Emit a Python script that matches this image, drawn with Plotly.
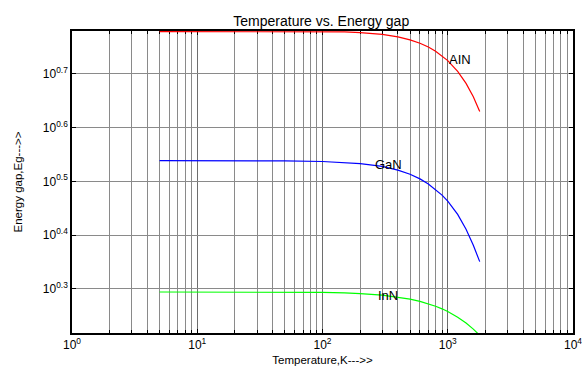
import math
import plotly.graph_objects as go

# Temperature (K)
temperature = [5, 10, 20, 50, 100, 150, 200, 300, 400, 500, 600, 700, 800, 900,
               1000, 1200, 1400, 1600, 1800]

# Energy gap (eV)
eg_aln = [6.000, 6.000, 6.000, 6.000, 6.000, 5.995, 5.977, 5.930, 5.868, 5.794,
          5.711, 5.619, 5.519, 5.413, 5.301, 5.063, 4.808, 4.540, 4.262]
eg_gan = [3.454, 3.454, 3.454, 3.451, 3.442, 3.429, 3.412, 3.370, 3.318, 3.259,
          3.195, 3.127, 3.055, 2.981, 2.904, 2.745, 2.575, 2.405, 2.242]
eg_inn = [1.969, 1.969, 1.969, 1.968, 1.965, 1.961, 1.956, 1.942, 1.927, 1.910,
          1.891, 1.872, 1.852, 1.832, 1.811, 1.768, 1.724, 1.680, 1.635]

series_names = ["AIN", "GaN", "InN"]
series_colors = ["#ff0000", "#0000ff", "#00ff00"]
x_tickvals = [1, 10, 100, 1000, 10000]
x_ticktext = ["10<sup>0</sup>", "10<sup>1</sup>", "10<sup>2</sup>", "10<sup>3</sup>", "10<sup>4</sup>"]
y_exps = [0.3, 0.4, 0.5, 0.6, 0.7]
y_tickvals = [10 ** e for e in y_exps]
y_ticktext = ["10<sup>%g</sup>" % e for e in y_exps]

minor_x = [k * 10 ** d for d in range(0, 4) for k in range(2, 10)]

fig = go.Figure()
for name, vals, col in zip(series_names, [eg_aln, eg_gan, eg_inn], series_colors):
    fig.add_trace(go.Scatter(x=temperature, y=vals, mode="lines", name=name,
                             line=dict(color=col, width=1.2)))

font = "Liberation Sans, Arial, sans-serif"

# curve labels (temperature, energy gap)
labels = [("AIN", 1250, 5.33), ("GaN", 335, 3.40), ("InN", 335, 1.942)]
for txt, xv, yv in labels:
    fig.add_annotation(x=math.log10(xv), y=math.log10(yv), text=txt, showarrow=False,
                       font=dict(family=font, size=13, color="black"))

fig.update_layout(
    width=582, height=370,
    margin=dict(l=72, r=9, t=31, b=37),
    paper_bgcolor="white", plot_bgcolor="white",
    showlegend=False,
    title=dict(text="Temperature vs. Energy gap", x=0.552, xanchor="center",
               y=0.943, yanchor="middle",
               font=dict(family=font, size=14, color="black")),
    font=dict(family=font, size=11, color="black"),
)
fig.update_xaxes(
    type="log", range=[0, 4], automargin=False, ticklabeloverflow="allow",
    tickvals=x_tickvals, ticktext=x_ticktext,
    showgrid=True, gridcolor="#6e6e6e", gridwidth=1,
    minor=dict(tickvals=minor_x, showgrid=True, gridcolor="#8a8a8a", gridwidth=1,
               ticks="inside", ticklen=3, tickcolor="black"),
    ticks="inside", ticklen=4, tickcolor="black",
    showline=True, linecolor="black", linewidth=1.5, mirror="allticks",
    zeroline=False, layer="below traces",
    title=dict(text="Temperature,K--->>", standoff=5, font=dict(family=font, size=11.5)),
    tickfont=dict(family=font, size=12),
)
fig.update_yaxes(
    type="log", range=[0.218, 0.7794], automargin=False,
    tickvals=y_tickvals, ticktext=y_ticktext,
    showgrid=True, gridcolor="#8a8a8a", gridwidth=1,
    ticks="inside", ticklen=4, tickcolor="black",
    showline=True, linecolor="black", linewidth=1.5, mirror="allticks",
    zeroline=False, layer="below traces",
    title=dict(text="Energy gap,Eg--->>", standoff=18, font=dict(family=font, size=11.5)),
    tickfont=dict(family=font, size=12),
)

fig.write_html("out.html")
